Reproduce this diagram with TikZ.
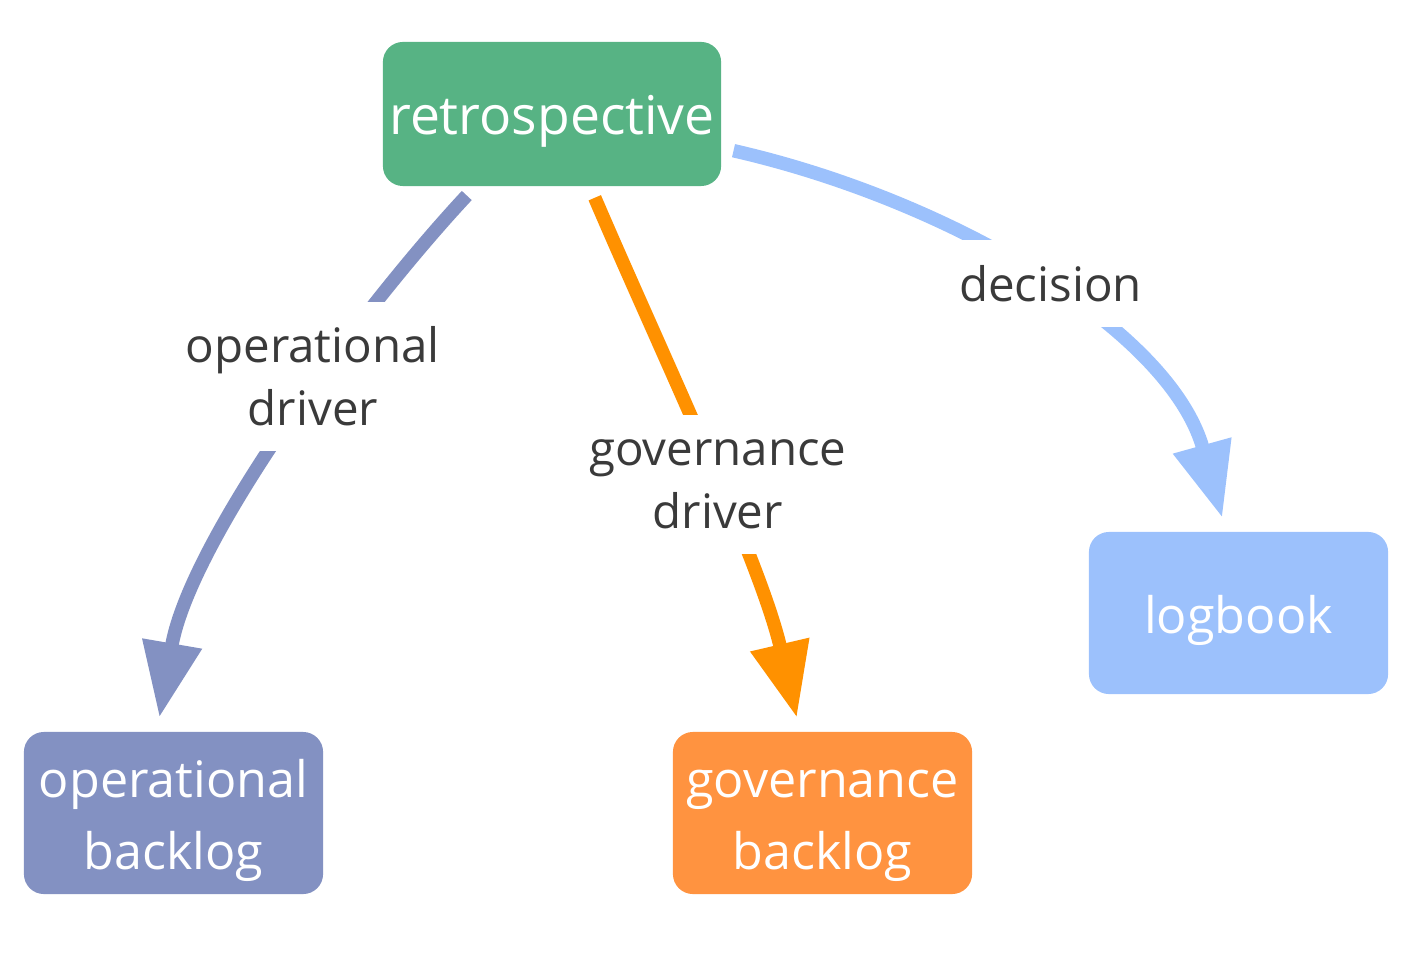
\documentclass[tikz,border=0pt]{standalone}
\usepackage{fontspec}
\setmainfont{Open Sans}
\usepackage{xcolor}
\usetikzlibrary{arrows.meta}

\definecolor{retrogreen}{HTML}{57B384}
\definecolor{opblue}{HTML}{8391C2}
\definecolor{govorange}{HTML}{FF9340}
\definecolor{govline}{HTML}{FF9100}
\definecolor{logblue}{HTML}{9CC1FC}
\definecolor{labelgray}{HTML}{3A3A3A}

\begin{document}
\begin{tikzpicture}[x=0.01cm,y=-0.01cm,
  box/.style={rounded corners=0.2cm,text=white,align=center,inner xsep=0.05cm,
    font=\fontsize{14.3}{20.4}\selectfont,minimum width=2.99cm,minimum height=1.62cm,
    execute at begin node={\rule{0pt}{15.3pt}}},
  twoline/.style={text height=31.9pt,text depth=0pt},
  lbl/.style={fill=white,text=labelgray,align=center,inner sep=0.25cm,
    font=\fontsize{13.5}{17.9}\selectfont},
  flow/.style={line width=0.135cm,-{Triangle[length=0.75cm,width=0.57cm]},
    shorten <=0.12cm,shorten >=0.14cm}]
\useasboundingbox (0,0) rectangle (1419,952);

\node[box,fill=retrogreen,minimum width=3.38cm,minimum height=1.44cm,
  font=\fontsize{15.2}{19.8}\selectfont] (retro) at (552,114) {retrospective};
\node[box,twoline,fill=opblue] (opb) at (173.5,813) {operational\\backlog};
\node[box,twoline,fill=govorange] (govb) at (822.5,813) {governance\\backlog};
\node[box,fill=logblue] (logb) at (1238.5,613) {logbook};

\draw[flow,opblue] ([xshift=-0.77cm]retro.south) .. controls (360,310) and (190,540) .. ([xshift=-0.165cm]opb.north)
  node[lbl,pos=0.40,xshift=-0.1cm] {operational\\driver};
\draw[flow,govline] ([xshift=0.38cm]retro.south) .. controls (660,350) and (760,560) .. ([xshift=-0.225cm]govb.north)
  node[lbl,pos=0.55] {governance\\driver};
\draw[flow,logblue] ([yshift=-0.34cm]retro.east) .. controls (950,200) and (1170,330) .. ([xshift=-0.125cm]logb.north)
  node[lbl,pos=0.5,xshift=0.12cm] {decision};
\end{tikzpicture}
\end{document}
